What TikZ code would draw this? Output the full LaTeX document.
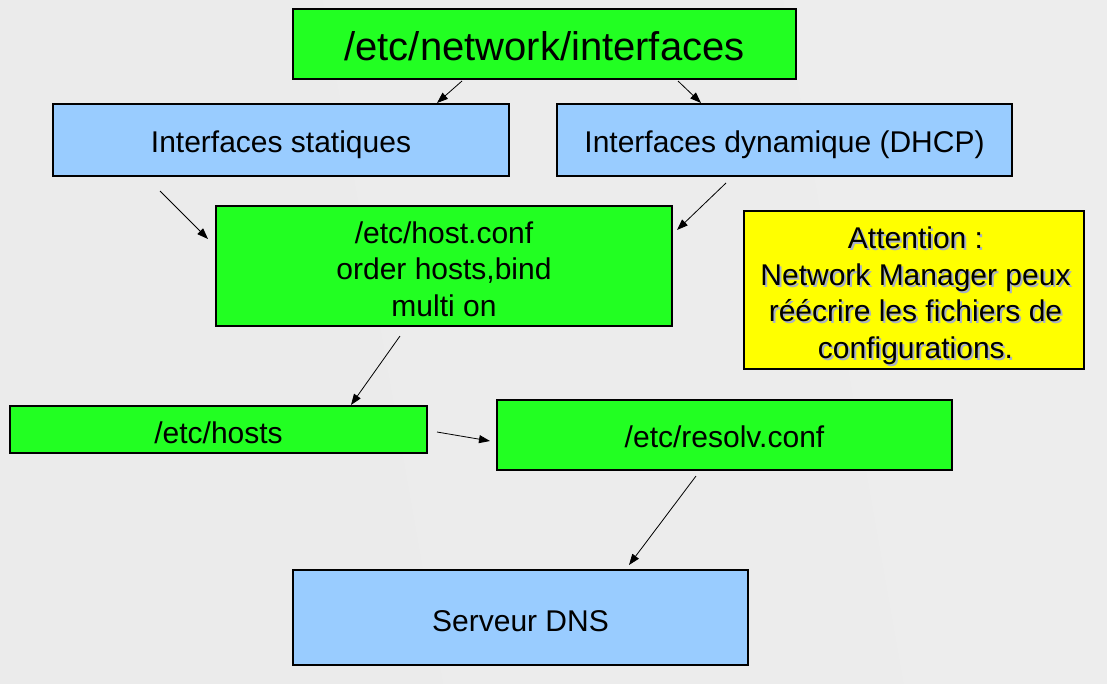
\documentclass[tikz,border=0pt]{standalone}
\usepackage{fontspec}
\setmainfont{Liberation Sans}
\usetikzlibrary{arrows.meta}
\definecolor{boxgreen}{HTML}{22FF22}
\definecolor{boxblue}{HTML}{99CCFF}
\definecolor{boxyellow}{HTML}{FFFF00}
\definecolor{shadowtxt}{HTML}{A8B0C8}
\newcommand\lowr[2]{\raisebox{-#1pt}[\height][\depth]{#2}}
\tikzset{
  box/.style={draw=black, line width=1.4pt, inner sep=0pt, align=center,
    font=\fontsize{30}{36.5}\selectfont},
  greenbox/.style={box, fill=boxgreen},
  bluebox/.style={box, fill=boxblue},
  yellowbox/.style={box, fill=boxyellow},
  conn/.style={draw=black, line width=0.8pt, -{Triangle[length=11pt,width=8pt]}},
}
\begin{document}
\begin{tikzpicture}[x=1pt,y=-1pt]
\useasboundingbox (0,0) rectangle (1107,683);
\shade[left color=black!8, middle color=white, right color=black!7, shading angle=100] (-60,-60) rectangle (1167,743);
% boxes
\node[greenbox, minimum width=503pt, minimum height=70pt, font=\fontsize{40}{48}\selectfont] (iface) at (544.5,44) {\lowr{2}{/etc/network/interfaces}};
\node[bluebox, minimum width=456pt, minimum height=72pt] (stat) at (281,140) {\lowr{5}{Interfaces statiques}};
\node[bluebox, minimum width=455pt, minimum height=72pt] (dyn) at (784.5,140) {\lowr{5}{Interfaces dynamique (DHCP)}};
\node[greenbox, minimum width=456pt, minimum height=120pt] (hostconf) at (444,266) {\lowr{3}{/etc/host.conf}\\\lowr{3}{order hosts,bind}\\\lowr{3}{multi on}};
\node[yellowbox, minimum width=340pt, minimum height=158pt] (attn) at (914,290) {};
\node[align=center, inner sep=0pt, text=shadowtxt, font=\fontsize{30}{36.5}\selectfont] (attnshadow) at (917.5,297.5) {Attention :\\Network Manager peux\\réécrire les fichiers de\\configurations.};
\node[align=center, inner sep=0pt, font=\fontsize{30}{36.5}\selectfont] (attntext) at (915.5,295.5) {Attention :\\Network Manager peux\\réécrire les fichiers de\\configurations.};
\node[greenbox, minimum width=417pt, minimum height=47pt] (hosts) at (218.5,429.5) {\lowr{3}{/etc/hosts}};
\node[greenbox, minimum width=455pt, minimum height=70pt] (resolv) at (724.5,435) {\lowr{1.5}{/etc/resolv.conf}};
\node[bluebox, minimum width=455pt, minimum height=95pt] (dns) at (520.5,617.5) {\lowr{4}{Serveur DNS}};
% connector end points
\coordinate (a1s) at (462,81);  \coordinate (a1e) at (437,103);
\coordinate (a2s) at (678,81);  \coordinate (a2e) at (701,103);
\coordinate (a3s) at (160,191); \coordinate (a3e) at (208,239);
\coordinate (a4s) at (726,183); \coordinate (a4e) at (677,230);
\coordinate (a5s) at (400,336); \coordinate (a5e) at (351,405);
\coordinate (a6s) at (437,432); \coordinate (a6e) at (490,441);
\coordinate (a7s) at (696,476); \coordinate (a7e) at (629,565);
% connectors
\draw[conn] (a1s) -- (a1e);
\draw[conn] (a2s) -- (a2e);
\draw[conn] (a3s) -- (a3e);
\draw[conn] (a4s) -- (a4e);
\draw[conn] (a5s) -- (a5e);
\draw[conn] (a6s) -- (a6e);
\draw[conn] (a7s) -- (a7e);
\end{tikzpicture}
\end{document}
